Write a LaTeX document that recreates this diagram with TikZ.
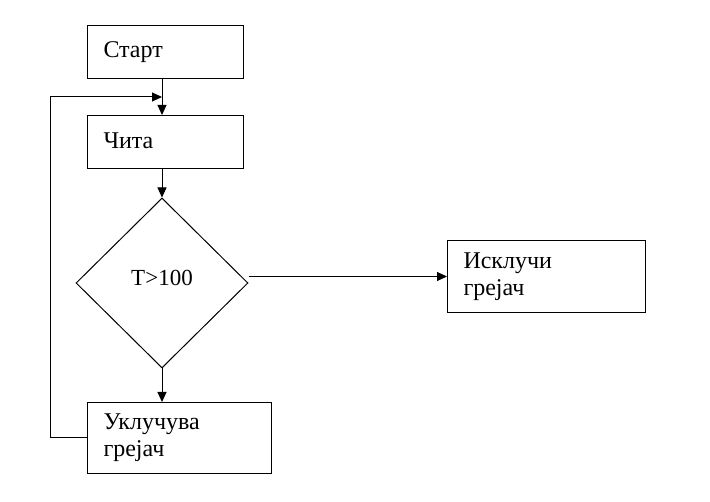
\documentclass[tikz,border=0pt]{standalone}
\usepackage{fontspec}
\setmainfont{Liberation Serif}
\usetikzlibrary{arrows.meta,shapes.geometric}
\tikzset{
  blok/.style={draw,line width=1pt,anchor=north west,align=left,inner xsep=16pt,
               font=\fontsize{24}{27}\selectfont},
  odluka/.style={draw,diamond,line width=1pt,inner sep=0pt,minimum width=172pt,
                 minimum height=170pt,font=\fontsize{23}{27}\selectfont},
  strelka/.style={line width=1pt,-{Triangle[length=10pt,width=9pt]}}
}

\begin{document}
\begin{tikzpicture}[x=1pt,y=-1pt]
\useasboundingbox (0,0) rectangle (710,502);
\node[blok,text width=124pt,minimum height=53pt] (start) at (87,25) {\raisebox{2pt}{Старт}};
\node[blok,text width=124pt,minimum height=53pt] (cita) at (87,115) {\raisebox{2pt}{Чита}};
\node[odluka] (dec) at (162,283) {\raisebox{10pt}{T>100}};
\node[blok,text width=152pt,minimum height=71pt] (ukl) at (87,402) {Уклучува\\грејач};
\node[blok,text width=166pt,minimum height=72pt] (isk) at (447,240) {Исклучи\\грејач};
\coordinate (povrat) at (50,97);
\draw[strelka] (dec.north |- start.south) -- (dec.north |- cita.north);
\draw[strelka] (dec.north |- cita.south) -- (dec.north);
\draw[strelka] (dec.south) -- (dec.south |- ukl.north);
\draw[strelka] (dec.east |- isk.west) -- (isk.west);
\draw[strelka] (ukl.west) -| (povrat) -- (dec.north |- povrat);
\end{tikzpicture}
\end{document}
